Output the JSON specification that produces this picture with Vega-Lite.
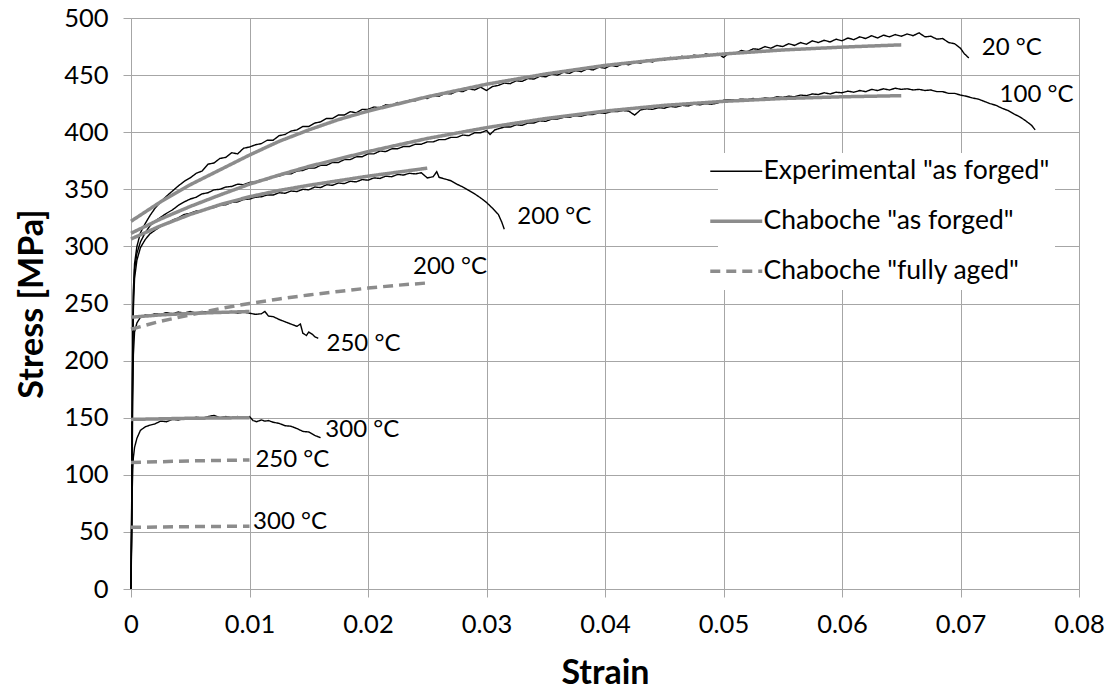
{
  "$schema": "https://vega.github.io/schema/vega-lite/v6.json",
  "width": 948,
  "height": 571,
  "autosize": {"type": "none"},
  "padding": {"left": 131, "top": 18, "right": 32, "bottom": 103},
  "background": "white",
  "config": {
    "view": {"stroke": null},
    "font": "Lato",
    "axis": {
      "grid": true,
      "gridColor": "#a6a6a6",
      "gridWidth": 1,
      "domainColor": "#a6a6a6",
      "tickColor": "#a6a6a6",
      "tickSize": 8,
      "labelFlush": false,
      "labelFont": "Lato",
      "labelFontSize": 25.5,
      "labelColor": "#000000",
      "labelPadding": 15,
      "titleFont": "Lato",
      "titleFontSize": 34,
      "titleFontWeight": "bold",
      "titleColor": "#000000"
    }
  },
  "datasets": {
    "curves": [
      {"s":"Experimental \"as forged\"","t":"20","x":0,"y":0},
      {"s":"Experimental \"as forged\"","t":"20","x":0.00005,"y":60},
      {"s":"Experimental \"as forged\"","t":"20","x":0.0001,"y":150},
      {"s":"Experimental \"as forged\"","t":"20","x":0.00015,"y":220},
      {"s":"Experimental \"as forged\"","t":"20","x":0.0002,"y":262},
      {"s":"Experimental \"as forged\"","t":"20","x":0.0003,"y":285},
      {"s":"Experimental \"as forged\"","t":"20","x":0.0005,"y":300},
      {"s":"Experimental \"as forged\"","t":"20","x":0.0008,"y":312},
      {"s":"Experimental \"as forged\"","t":"20","x":0.0012,"y":320},
      {"s":"Experimental \"as forged\"","t":"20","x":0.0016,"y":327},
      {"s":"Experimental \"as forged\"","t":"20","x":0.002,"y":333},
      {"s":"Experimental \"as forged\"","t":"20","x":0.0025,"y":339},
      {"s":"Experimental \"as forged\"","t":"20","x":0.003,"y":344},
      {"s":"Experimental \"as forged\"","t":"20","x":0.0035,"y":348.5},
      {"s":"Experimental \"as forged\"","t":"20","x":0.004,"y":353},
      {"s":"Experimental \"as forged\"","t":"20","x":0.0045,"y":357},
      {"s":"Experimental \"as forged\"","t":"20","x":0.005,"y":360},
      {"s":"Experimental \"as forged\"","t":"20","x":0.0055,"y":364},
      {"s":"Experimental \"as forged\"","t":"20","x":0.006,"y":366},
      {"s":"Experimental \"as forged\"","t":"20","x":0.0065,"y":372},
      {"s":"Experimental \"as forged\"","t":"20","x":0.007,"y":373},
      {"s":"Experimental \"as forged\"","t":"20","x":0.0075,"y":377},
      {"s":"Experimental \"as forged\"","t":"20","x":0.008,"y":378},
      {"s":"Experimental \"as forged\"","t":"20","x":0.0085,"y":382},
      {"s":"Experimental \"as forged\"","t":"20","x":0.009,"y":381},
      {"s":"Experimental \"as forged\"","t":"20","x":0.0095,"y":386},
      {"s":"Experimental \"as forged\"","t":"20","x":0.01,"y":387},
      {"s":"Experimental \"as forged\"","t":"20","x":0.0105,"y":389},
      {"s":"Experimental \"as forged\"","t":"20","x":0.011,"y":390},
      {"s":"Experimental \"as forged\"","t":"20","x":0.0115,"y":393},
      {"s":"Experimental \"as forged\"","t":"20","x":0.012,"y":393},
      {"s":"Experimental \"as forged\"","t":"20","x":0.0125,"y":397},
      {"s":"Experimental \"as forged\"","t":"20","x":0.013,"y":398},
      {"s":"Experimental \"as forged\"","t":"20","x":0.0135,"y":401},
      {"s":"Experimental \"as forged\"","t":"20","x":0.014,"y":402},
      {"s":"Experimental \"as forged\"","t":"20","x":0.0145,"y":405},
      {"s":"Experimental \"as forged\"","t":"20","x":0.015,"y":405},
      {"s":"Experimental \"as forged\"","t":"20","x":0.0155,"y":408},
      {"s":"Experimental \"as forged\"","t":"20","x":0.016,"y":409},
      {"s":"Experimental \"as forged\"","t":"20","x":0.0165,"y":412},
      {"s":"Experimental \"as forged\"","t":"20","x":0.017,"y":412},
      {"s":"Experimental \"as forged\"","t":"20","x":0.0175,"y":415},
      {"s":"Experimental \"as forged\"","t":"20","x":0.018,"y":415},
      {"s":"Experimental \"as forged\"","t":"20","x":0.0185,"y":418},
      {"s":"Experimental \"as forged\"","t":"20","x":0.019,"y":417},
      {"s":"Experimental \"as forged\"","t":"20","x":0.0195,"y":420},
      {"s":"Experimental \"as forged\"","t":"20","x":0.02,"y":420},
      {"s":"Experimental \"as forged\"","t":"20","x":0.0205,"y":422},
      {"s":"Experimental \"as forged\"","t":"20","x":0.021,"y":421.5},
      {"s":"Experimental \"as forged\"","t":"20","x":0.0215,"y":424},
      {"s":"Experimental \"as forged\"","t":"20","x":0.022,"y":423.5},
      {"s":"Experimental \"as forged\"","t":"20","x":0.0225,"y":426},
      {"s":"Experimental \"as forged\"","t":"20","x":0.023,"y":425.5},
      {"s":"Experimental \"as forged\"","t":"20","x":0.0235,"y":428},
      {"s":"Experimental \"as forged\"","t":"20","x":0.024,"y":427.5},
      {"s":"Experimental \"as forged\"","t":"20","x":0.0245,"y":430},
      {"s":"Experimental \"as forged\"","t":"20","x":0.025,"y":429.5},
      {"s":"Experimental \"as forged\"","t":"20","x":0.0255,"y":432},
      {"s":"Experimental \"as forged\"","t":"20","x":0.026,"y":431.5},
      {"s":"Experimental \"as forged\"","t":"20","x":0.0265,"y":434},
      {"s":"Experimental \"as forged\"","t":"20","x":0.027,"y":433.5},
      {"s":"Experimental \"as forged\"","t":"20","x":0.0275,"y":436},
      {"s":"Experimental \"as forged\"","t":"20","x":0.028,"y":435.5},
      {"s":"Experimental \"as forged\"","t":"20","x":0.0285,"y":438},
      {"s":"Experimental \"as forged\"","t":"20","x":0.029,"y":437},
      {"s":"Experimental \"as forged\"","t":"20","x":0.0295,"y":439.5},
      {"s":"Experimental \"as forged\"","t":"20","x":0.03,"y":436.5},
      {"s":"Experimental \"as forged\"","t":"20","x":0.0305,"y":440},
      {"s":"Experimental \"as forged\"","t":"20","x":0.031,"y":441},
      {"s":"Experimental \"as forged\"","t":"20","x":0.0315,"y":443},
      {"s":"Experimental \"as forged\"","t":"20","x":0.032,"y":442.5},
      {"s":"Experimental \"as forged\"","t":"20","x":0.0325,"y":445},
      {"s":"Experimental \"as forged\"","t":"20","x":0.033,"y":444.5},
      {"s":"Experimental \"as forged\"","t":"20","x":0.0335,"y":447},
      {"s":"Experimental \"as forged\"","t":"20","x":0.034,"y":446.5},
      {"s":"Experimental \"as forged\"","t":"20","x":0.0345,"y":449},
      {"s":"Experimental \"as forged\"","t":"20","x":0.035,"y":448.5},
      {"s":"Experimental \"as forged\"","t":"20","x":0.0355,"y":451},
      {"s":"Experimental \"as forged\"","t":"20","x":0.036,"y":450},
      {"s":"Experimental \"as forged\"","t":"20","x":0.0365,"y":452.5},
      {"s":"Experimental \"as forged\"","t":"20","x":0.037,"y":451.5},
      {"s":"Experimental \"as forged\"","t":"20","x":0.0375,"y":454},
      {"s":"Experimental \"as forged\"","t":"20","x":0.038,"y":453},
      {"s":"Experimental \"as forged\"","t":"20","x":0.0385,"y":455.5},
      {"s":"Experimental \"as forged\"","t":"20","x":0.039,"y":454.5},
      {"s":"Experimental \"as forged\"","t":"20","x":0.0395,"y":457},
      {"s":"Experimental \"as forged\"","t":"20","x":0.04,"y":456},
      {"s":"Experimental \"as forged\"","t":"20","x":0.0405,"y":458.5},
      {"s":"Experimental \"as forged\"","t":"20","x":0.041,"y":457.5},
      {"s":"Experimental \"as forged\"","t":"20","x":0.0415,"y":460},
      {"s":"Experimental \"as forged\"","t":"20","x":0.042,"y":459},
      {"s":"Experimental \"as forged\"","t":"20","x":0.0425,"y":461.5},
      {"s":"Experimental \"as forged\"","t":"20","x":0.043,"y":460.5},
      {"s":"Experimental \"as forged\"","t":"20","x":0.0435,"y":463},
      {"s":"Experimental \"as forged\"","t":"20","x":0.044,"y":461.5},
      {"s":"Experimental \"as forged\"","t":"20","x":0.0445,"y":464},
      {"s":"Experimental \"as forged\"","t":"20","x":0.045,"y":463},
      {"s":"Experimental \"as forged\"","t":"20","x":0.0455,"y":465.5},
      {"s":"Experimental \"as forged\"","t":"20","x":0.046,"y":464},
      {"s":"Experimental \"as forged\"","t":"20","x":0.0465,"y":466.5},
      {"s":"Experimental \"as forged\"","t":"20","x":0.047,"y":465},
      {"s":"Experimental \"as forged\"","t":"20","x":0.0475,"y":467.5},
      {"s":"Experimental \"as forged\"","t":"20","x":0.048,"y":466.5},
      {"s":"Experimental \"as forged\"","t":"20","x":0.0485,"y":468.5},
      {"s":"Experimental \"as forged\"","t":"20","x":0.049,"y":467.5},
      {"s":"Experimental \"as forged\"","t":"20","x":0.0495,"y":469},
      {"s":"Experimental \"as forged\"","t":"20","x":0.05,"y":465.5},
      {"s":"Experimental \"as forged\"","t":"20","x":0.0505,"y":469.5},
      {"s":"Experimental \"as forged\"","t":"20","x":0.051,"y":469},
      {"s":"Experimental \"as forged\"","t":"20","x":0.0515,"y":471.5},
      {"s":"Experimental \"as forged\"","t":"20","x":0.052,"y":470.5},
      {"s":"Experimental \"as forged\"","t":"20","x":0.0525,"y":473},
      {"s":"Experimental \"as forged\"","t":"20","x":0.053,"y":472.5},
      {"s":"Experimental \"as forged\"","t":"20","x":0.0535,"y":475},
      {"s":"Experimental \"as forged\"","t":"20","x":0.054,"y":473.5},
      {"s":"Experimental \"as forged\"","t":"20","x":0.0545,"y":476},
      {"s":"Experimental \"as forged\"","t":"20","x":0.055,"y":475},
      {"s":"Experimental \"as forged\"","t":"20","x":0.0555,"y":477.5},
      {"s":"Experimental \"as forged\"","t":"20","x":0.056,"y":476},
      {"s":"Experimental \"as forged\"","t":"20","x":0.0565,"y":478.5},
      {"s":"Experimental \"as forged\"","t":"20","x":0.057,"y":477},
      {"s":"Experimental \"as forged\"","t":"20","x":0.0575,"y":480},
      {"s":"Experimental \"as forged\"","t":"20","x":0.058,"y":478.5},
      {"s":"Experimental \"as forged\"","t":"20","x":0.0585,"y":480.5},
      {"s":"Experimental \"as forged\"","t":"20","x":0.059,"y":479},
      {"s":"Experimental \"as forged\"","t":"20","x":0.0595,"y":481.5},
      {"s":"Experimental \"as forged\"","t":"20","x":0.06,"y":480},
      {"s":"Experimental \"as forged\"","t":"20","x":0.0605,"y":482.5},
      {"s":"Experimental \"as forged\"","t":"20","x":0.061,"y":481},
      {"s":"Experimental \"as forged\"","t":"20","x":0.0615,"y":483.5},
      {"s":"Experimental \"as forged\"","t":"20","x":0.062,"y":482},
      {"s":"Experimental \"as forged\"","t":"20","x":0.0625,"y":484.5},
      {"s":"Experimental \"as forged\"","t":"20","x":0.063,"y":482.5},
      {"s":"Experimental \"as forged\"","t":"20","x":0.0635,"y":485},
      {"s":"Experimental \"as forged\"","t":"20","x":0.064,"y":483.5},
      {"s":"Experimental \"as forged\"","t":"20","x":0.0645,"y":485.5},
      {"s":"Experimental \"as forged\"","t":"20","x":0.065,"y":484},
      {"s":"Experimental \"as forged\"","t":"20","x":0.0655,"y":486},
      {"s":"Experimental \"as forged\"","t":"20","x":0.066,"y":484.5},
      {"s":"Experimental \"as forged\"","t":"20","x":0.0665,"y":487},
      {"s":"Experimental \"as forged\"","t":"20","x":0.067,"y":483.5},
      {"s":"Experimental \"as forged\"","t":"20","x":0.0675,"y":484},
      {"s":"Experimental \"as forged\"","t":"20","x":0.068,"y":481.5},
      {"s":"Experimental \"as forged\"","t":"20","x":0.0685,"y":482},
      {"s":"Experimental \"as forged\"","t":"20","x":0.069,"y":478.5},
      {"s":"Experimental \"as forged\"","t":"20","x":0.0695,"y":477.5},
      {"s":"Experimental \"as forged\"","t":"20","x":0.07,"y":473.5},
      {"s":"Experimental \"as forged\"","t":"20","x":0.0703,"y":469},
      {"s":"Experimental \"as forged\"","t":"20","x":0.0707,"y":465},

      {"s":"Experimental \"as forged\"","t":"100","x":0,"y":0},
      {"s":"Experimental \"as forged\"","t":"100","x":0.00005,"y":60},
      {"s":"Experimental \"as forged\"","t":"100","x":0.0001,"y":150},
      {"s":"Experimental \"as forged\"","t":"100","x":0.00015,"y":218},
      {"s":"Experimental \"as forged\"","t":"100","x":0.0002,"y":256},
      {"s":"Experimental \"as forged\"","t":"100","x":0.0003,"y":280},
      {"s":"Experimental \"as forged\"","t":"100","x":0.0005,"y":294},
      {"s":"Experimental \"as forged\"","t":"100","x":0.0008,"y":304},
      {"s":"Experimental \"as forged\"","t":"100","x":0.0012,"y":312},
      {"s":"Experimental \"as forged\"","t":"100","x":0.0016,"y":318},
      {"s":"Experimental \"as forged\"","t":"100","x":0.002,"y":322},
      {"s":"Experimental \"as forged\"","t":"100","x":0.0025,"y":325.5},
      {"s":"Experimental \"as forged\"","t":"100","x":0.003,"y":329},
      {"s":"Experimental \"as forged\"","t":"100","x":0.0035,"y":332},
      {"s":"Experimental \"as forged\"","t":"100","x":0.004,"y":336},
      {"s":"Experimental \"as forged\"","t":"100","x":0.0045,"y":339},
      {"s":"Experimental \"as forged\"","t":"100","x":0.005,"y":341.5},
      {"s":"Experimental \"as forged\"","t":"100","x":0.0055,"y":343},
      {"s":"Experimental \"as forged\"","t":"100","x":0.006,"y":346},
      {"s":"Experimental \"as forged\"","t":"100","x":0.0065,"y":347},
      {"s":"Experimental \"as forged\"","t":"100","x":0.007,"y":349.5},
      {"s":"Experimental \"as forged\"","t":"100","x":0.0075,"y":350},
      {"s":"Experimental \"as forged\"","t":"100","x":0.008,"y":352},
      {"s":"Experimental \"as forged\"","t":"100","x":0.0085,"y":352.5},
      {"s":"Experimental \"as forged\"","t":"100","x":0.009,"y":354.5},
      {"s":"Experimental \"as forged\"","t":"100","x":0.0095,"y":354},
      {"s":"Experimental \"as forged\"","t":"100","x":0.01,"y":356},
      {"s":"Experimental \"as forged\"","t":"100","x":0.0105,"y":356.5},
      {"s":"Experimental \"as forged\"","t":"100","x":0.011,"y":358.5},
      {"s":"Experimental \"as forged\"","t":"100","x":0.0115,"y":358.5},
      {"s":"Experimental \"as forged\"","t":"100","x":0.012,"y":361},
      {"s":"Experimental \"as forged\"","t":"100","x":0.0125,"y":361.5},
      {"s":"Experimental \"as forged\"","t":"100","x":0.013,"y":363.5},
      {"s":"Experimental \"as forged\"","t":"100","x":0.0135,"y":363.5},
      {"s":"Experimental \"as forged\"","t":"100","x":0.014,"y":366},
      {"s":"Experimental \"as forged\"","t":"100","x":0.0145,"y":366.5},
      {"s":"Experimental \"as forged\"","t":"100","x":0.015,"y":368.5},
      {"s":"Experimental \"as forged\"","t":"100","x":0.0155,"y":368.5},
      {"s":"Experimental \"as forged\"","t":"100","x":0.016,"y":371},
      {"s":"Experimental \"as forged\"","t":"100","x":0.0165,"y":371},
      {"s":"Experimental \"as forged\"","t":"100","x":0.017,"y":373.5},
      {"s":"Experimental \"as forged\"","t":"100","x":0.0175,"y":373.5},
      {"s":"Experimental \"as forged\"","t":"100","x":0.018,"y":376},
      {"s":"Experimental \"as forged\"","t":"100","x":0.0185,"y":376},
      {"s":"Experimental \"as forged\"","t":"100","x":0.019,"y":378.5},
      {"s":"Experimental \"as forged\"","t":"100","x":0.0195,"y":378.5},
      {"s":"Experimental \"as forged\"","t":"100","x":0.02,"y":381},
      {"s":"Experimental \"as forged\"","t":"100","x":0.0205,"y":381},
      {"s":"Experimental \"as forged\"","t":"100","x":0.021,"y":383.5},
      {"s":"Experimental \"as forged\"","t":"100","x":0.0215,"y":383},
      {"s":"Experimental \"as forged\"","t":"100","x":0.022,"y":385.5},
      {"s":"Experimental \"as forged\"","t":"100","x":0.0225,"y":385.5},
      {"s":"Experimental \"as forged\"","t":"100","x":0.023,"y":387.5},
      {"s":"Experimental \"as forged\"","t":"100","x":0.0235,"y":387.5},
      {"s":"Experimental \"as forged\"","t":"100","x":0.024,"y":389.5},
      {"s":"Experimental \"as forged\"","t":"100","x":0.0245,"y":389.5},
      {"s":"Experimental \"as forged\"","t":"100","x":0.025,"y":391.5},
      {"s":"Experimental \"as forged\"","t":"100","x":0.0255,"y":391.5},
      {"s":"Experimental \"as forged\"","t":"100","x":0.026,"y":393.5},
      {"s":"Experimental \"as forged\"","t":"100","x":0.0265,"y":393.5},
      {"s":"Experimental \"as forged\"","t":"100","x":0.027,"y":395.5},
      {"s":"Experimental \"as forged\"","t":"100","x":0.0275,"y":395.5},
      {"s":"Experimental \"as forged\"","t":"100","x":0.028,"y":397.5},
      {"s":"Experimental \"as forged\"","t":"100","x":0.0285,"y":397},
      {"s":"Experimental \"as forged\"","t":"100","x":0.029,"y":399.5},
      {"s":"Experimental \"as forged\"","t":"100","x":0.0295,"y":399.5},
      {"s":"Experimental \"as forged\"","t":"100","x":0.03,"y":401.5},
      {"s":"Experimental \"as forged\"","t":"100","x":0.0303,"y":398},
      {"s":"Experimental \"as forged\"","t":"100","x":0.0307,"y":402},
      {"s":"Experimental \"as forged\"","t":"100","x":0.031,"y":403},
      {"s":"Experimental \"as forged\"","t":"100","x":0.0315,"y":404.5},
      {"s":"Experimental \"as forged\"","t":"100","x":0.032,"y":404.5},
      {"s":"Experimental \"as forged\"","t":"100","x":0.0325,"y":406.5},
      {"s":"Experimental \"as forged\"","t":"100","x":0.033,"y":406},
      {"s":"Experimental \"as forged\"","t":"100","x":0.0335,"y":408},
      {"s":"Experimental \"as forged\"","t":"100","x":0.034,"y":408},
      {"s":"Experimental \"as forged\"","t":"100","x":0.0345,"y":410},
      {"s":"Experimental \"as forged\"","t":"100","x":0.035,"y":409.5},
      {"s":"Experimental \"as forged\"","t":"100","x":0.0355,"y":411.5},
      {"s":"Experimental \"as forged\"","t":"100","x":0.036,"y":411.5},
      {"s":"Experimental \"as forged\"","t":"100","x":0.0365,"y":413},
      {"s":"Experimental \"as forged\"","t":"100","x":0.037,"y":413},
      {"s":"Experimental \"as forged\"","t":"100","x":0.0375,"y":414.5},
      {"s":"Experimental \"as forged\"","t":"100","x":0.038,"y":414},
      {"s":"Experimental \"as forged\"","t":"100","x":0.0385,"y":415.5},
      {"s":"Experimental \"as forged\"","t":"100","x":0.039,"y":415.5},
      {"s":"Experimental \"as forged\"","t":"100","x":0.0395,"y":417},
      {"s":"Experimental \"as forged\"","t":"100","x":0.04,"y":416.5},
      {"s":"Experimental \"as forged\"","t":"100","x":0.0405,"y":418},
      {"s":"Experimental \"as forged\"","t":"100","x":0.041,"y":418},
      {"s":"Experimental \"as forged\"","t":"100","x":0.0415,"y":419},
      {"s":"Experimental \"as forged\"","t":"100","x":0.042,"y":418.5},
      {"s":"Experimental \"as forged\"","t":"100","x":0.0425,"y":415},
      {"s":"Experimental \"as forged\"","t":"100","x":0.043,"y":419.5},
      {"s":"Experimental \"as forged\"","t":"100","x":0.0435,"y":420.5},
      {"s":"Experimental \"as forged\"","t":"100","x":0.044,"y":420},
      {"s":"Experimental \"as forged\"","t":"100","x":0.0445,"y":421.5},
      {"s":"Experimental \"as forged\"","t":"100","x":0.045,"y":421},
      {"s":"Experimental \"as forged\"","t":"100","x":0.0455,"y":422.5},
      {"s":"Experimental \"as forged\"","t":"100","x":0.046,"y":422},
      {"s":"Experimental \"as forged\"","t":"100","x":0.0465,"y":423.5},
      {"s":"Experimental \"as forged\"","t":"100","x":0.047,"y":423},
      {"s":"Experimental \"as forged\"","t":"100","x":0.0475,"y":424.5},
      {"s":"Experimental \"as forged\"","t":"100","x":0.048,"y":424},
      {"s":"Experimental \"as forged\"","t":"100","x":0.0485,"y":425},
      {"s":"Experimental \"as forged\"","t":"100","x":0.049,"y":424.5},
      {"s":"Experimental \"as forged\"","t":"100","x":0.0495,"y":425.5},
      {"s":"Experimental \"as forged\"","t":"100","x":0.05,"y":428},
      {"s":"Experimental \"as forged\"","t":"100","x":0.0505,"y":428.5},
      {"s":"Experimental \"as forged\"","t":"100","x":0.051,"y":428},
      {"s":"Experimental \"as forged\"","t":"100","x":0.0515,"y":429},
      {"s":"Experimental \"as forged\"","t":"100","x":0.052,"y":428.5},
      {"s":"Experimental \"as forged\"","t":"100","x":0.0525,"y":429.5},
      {"s":"Experimental \"as forged\"","t":"100","x":0.053,"y":429},
      {"s":"Experimental \"as forged\"","t":"100","x":0.0535,"y":430},
      {"s":"Experimental \"as forged\"","t":"100","x":0.054,"y":429.5},
      {"s":"Experimental \"as forged\"","t":"100","x":0.0545,"y":431},
      {"s":"Experimental \"as forged\"","t":"100","x":0.055,"y":430.5},
      {"s":"Experimental \"as forged\"","t":"100","x":0.0555,"y":431.5},
      {"s":"Experimental \"as forged\"","t":"100","x":0.056,"y":431},
      {"s":"Experimental \"as forged\"","t":"100","x":0.0565,"y":432.5},
      {"s":"Experimental \"as forged\"","t":"100","x":0.057,"y":432},
      {"s":"Experimental \"as forged\"","t":"100","x":0.0575,"y":433.5},
      {"s":"Experimental \"as forged\"","t":"100","x":0.058,"y":433},
      {"s":"Experimental \"as forged\"","t":"100","x":0.0585,"y":434.5},
      {"s":"Experimental \"as forged\"","t":"100","x":0.059,"y":433.5},
      {"s":"Experimental \"as forged\"","t":"100","x":0.0595,"y":435},
      {"s":"Experimental \"as forged\"","t":"100","x":0.06,"y":434.5},
      {"s":"Experimental \"as forged\"","t":"100","x":0.0605,"y":436},
      {"s":"Experimental \"as forged\"","t":"100","x":0.061,"y":435},
      {"s":"Experimental \"as forged\"","t":"100","x":0.0615,"y":436.5},
      {"s":"Experimental \"as forged\"","t":"100","x":0.062,"y":435.5},
      {"s":"Experimental \"as forged\"","t":"100","x":0.0625,"y":437.5},
      {"s":"Experimental \"as forged\"","t":"100","x":0.063,"y":436.5},
      {"s":"Experimental \"as forged\"","t":"100","x":0.0635,"y":438},
      {"s":"Experimental \"as forged\"","t":"100","x":0.064,"y":437},
      {"s":"Experimental \"as forged\"","t":"100","x":0.0645,"y":438.5},
      {"s":"Experimental \"as forged\"","t":"100","x":0.065,"y":437.5},
      {"s":"Experimental \"as forged\"","t":"100","x":0.0655,"y":438},
      {"s":"Experimental \"as forged\"","t":"100","x":0.066,"y":437},
      {"s":"Experimental \"as forged\"","t":"100","x":0.0665,"y":437.5},
      {"s":"Experimental \"as forged\"","t":"100","x":0.067,"y":436.5},
      {"s":"Experimental \"as forged\"","t":"100","x":0.0675,"y":437},
      {"s":"Experimental \"as forged\"","t":"100","x":0.068,"y":435.5},
      {"s":"Experimental \"as forged\"","t":"100","x":0.0685,"y":435.5},
      {"s":"Experimental \"as forged\"","t":"100","x":0.069,"y":434},
      {"s":"Experimental \"as forged\"","t":"100","x":0.0695,"y":434},
      {"s":"Experimental \"as forged\"","t":"100","x":0.07,"y":432.5},
      {"s":"Experimental \"as forged\"","t":"100","x":0.0705,"y":431.5},
      {"s":"Experimental \"as forged\"","t":"100","x":0.071,"y":430},
      {"s":"Experimental \"as forged\"","t":"100","x":0.0715,"y":429},
      {"s":"Experimental \"as forged\"","t":"100","x":0.072,"y":427},
      {"s":"Experimental \"as forged\"","t":"100","x":0.0725,"y":425},
      {"s":"Experimental \"as forged\"","t":"100","x":0.073,"y":423.5},
      {"s":"Experimental \"as forged\"","t":"100","x":0.0735,"y":421},
      {"s":"Experimental \"as forged\"","t":"100","x":0.074,"y":419},
      {"s":"Experimental \"as forged\"","t":"100","x":0.0745,"y":416},
      {"s":"Experimental \"as forged\"","t":"100","x":0.075,"y":413.5},
      {"s":"Experimental \"as forged\"","t":"100","x":0.0755,"y":410},
      {"s":"Experimental \"as forged\"","t":"100","x":0.076,"y":406},
      {"s":"Experimental \"as forged\"","t":"100","x":0.0763,"y":402},

      {"s":"Experimental \"as forged\"","t":"200","x":0,"y":0},
      {"s":"Experimental \"as forged\"","t":"200","x":0.00005,"y":55},
      {"s":"Experimental \"as forged\"","t":"200","x":0.0001,"y":140},
      {"s":"Experimental \"as forged\"","t":"200","x":0.00015,"y":205},
      {"s":"Experimental \"as forged\"","t":"200","x":0.0002,"y":245},
      {"s":"Experimental \"as forged\"","t":"200","x":0.0003,"y":272},
      {"s":"Experimental \"as forged\"","t":"200","x":0.0005,"y":288},
      {"s":"Experimental \"as forged\"","t":"200","x":0.0008,"y":299},
      {"s":"Experimental \"as forged\"","t":"200","x":0.0012,"y":306},
      {"s":"Experimental \"as forged\"","t":"200","x":0.0016,"y":311},
      {"s":"Experimental \"as forged\"","t":"200","x":0.002,"y":314},
      {"s":"Experimental \"as forged\"","t":"200","x":0.0025,"y":317.5},
      {"s":"Experimental \"as forged\"","t":"200","x":0.003,"y":320},
      {"s":"Experimental \"as forged\"","t":"200","x":0.0035,"y":323},
      {"s":"Experimental \"as forged\"","t":"200","x":0.004,"y":325},
      {"s":"Experimental \"as forged\"","t":"200","x":0.0045,"y":328},
      {"s":"Experimental \"as forged\"","t":"200","x":0.005,"y":329},
      {"s":"Experimental \"as forged\"","t":"200","x":0.0055,"y":331},
      {"s":"Experimental \"as forged\"","t":"200","x":0.006,"y":331.5},
      {"s":"Experimental \"as forged\"","t":"200","x":0.0065,"y":333.5},
      {"s":"Experimental \"as forged\"","t":"200","x":0.007,"y":334},
      {"s":"Experimental \"as forged\"","t":"200","x":0.0075,"y":336},
      {"s":"Experimental \"as forged\"","t":"200","x":0.008,"y":336.5},
      {"s":"Experimental \"as forged\"","t":"200","x":0.0085,"y":338.5},
      {"s":"Experimental \"as forged\"","t":"200","x":0.009,"y":339},
      {"s":"Experimental \"as forged\"","t":"200","x":0.0095,"y":341},
      {"s":"Experimental \"as forged\"","t":"200","x":0.01,"y":341.5},
      {"s":"Experimental \"as forged\"","t":"200","x":0.0105,"y":343},
      {"s":"Experimental \"as forged\"","t":"200","x":0.011,"y":343.5},
      {"s":"Experimental \"as forged\"","t":"200","x":0.0115,"y":345},
      {"s":"Experimental \"as forged\"","t":"200","x":0.012,"y":345},
      {"s":"Experimental \"as forged\"","t":"200","x":0.0125,"y":347},
      {"s":"Experimental \"as forged\"","t":"200","x":0.013,"y":346.5},
      {"s":"Experimental \"as forged\"","t":"200","x":0.0135,"y":348.5},
      {"s":"Experimental \"as forged\"","t":"200","x":0.014,"y":348},
      {"s":"Experimental \"as forged\"","t":"200","x":0.0145,"y":350},
      {"s":"Experimental \"as forged\"","t":"200","x":0.015,"y":349.5},
      {"s":"Experimental \"as forged\"","t":"200","x":0.0155,"y":352},
      {"s":"Experimental \"as forged\"","t":"200","x":0.016,"y":351.5},
      {"s":"Experimental \"as forged\"","t":"200","x":0.0165,"y":354},
      {"s":"Experimental \"as forged\"","t":"200","x":0.017,"y":353.5},
      {"s":"Experimental \"as forged\"","t":"200","x":0.0175,"y":355.5},
      {"s":"Experimental \"as forged\"","t":"200","x":0.018,"y":355},
      {"s":"Experimental \"as forged\"","t":"200","x":0.0185,"y":357},
      {"s":"Experimental \"as forged\"","t":"200","x":0.019,"y":356.5},
      {"s":"Experimental \"as forged\"","t":"200","x":0.0195,"y":358.5},
      {"s":"Experimental \"as forged\"","t":"200","x":0.02,"y":358},
      {"s":"Experimental \"as forged\"","t":"200","x":0.0205,"y":360},
      {"s":"Experimental \"as forged\"","t":"200","x":0.021,"y":359.5},
      {"s":"Experimental \"as forged\"","t":"200","x":0.0215,"y":361.5},
      {"s":"Experimental \"as forged\"","t":"200","x":0.022,"y":361},
      {"s":"Experimental \"as forged\"","t":"200","x":0.0225,"y":363},
      {"s":"Experimental \"as forged\"","t":"200","x":0.023,"y":362.5},
      {"s":"Experimental \"as forged\"","t":"200","x":0.0235,"y":364},
      {"s":"Experimental \"as forged\"","t":"200","x":0.024,"y":363.5},
      {"s":"Experimental \"as forged\"","t":"200","x":0.0245,"y":364.5},
      {"s":"Experimental \"as forged\"","t":"200","x":0.025,"y":360},
      {"s":"Experimental \"as forged\"","t":"200","x":0.0255,"y":361},
      {"s":"Experimental \"as forged\"","t":"200","x":0.0258,"y":365.5},
      {"s":"Experimental \"as forged\"","t":"200","x":0.026,"y":360.5},
      {"s":"Experimental \"as forged\"","t":"200","x":0.0265,"y":359},
      {"s":"Experimental \"as forged\"","t":"200","x":0.027,"y":357.5},
      {"s":"Experimental \"as forged\"","t":"200","x":0.0275,"y":354.5},
      {"s":"Experimental \"as forged\"","t":"200","x":0.028,"y":352},
      {"s":"Experimental \"as forged\"","t":"200","x":0.0285,"y":349},
      {"s":"Experimental \"as forged\"","t":"200","x":0.029,"y":346},
      {"s":"Experimental \"as forged\"","t":"200","x":0.0295,"y":342.5},
      {"s":"Experimental \"as forged\"","t":"200","x":0.03,"y":338.5},
      {"s":"Experimental \"as forged\"","t":"200","x":0.0305,"y":333.5},
      {"s":"Experimental \"as forged\"","t":"200","x":0.031,"y":328},
      {"s":"Experimental \"as forged\"","t":"200","x":0.0313,"y":321},
      {"s":"Experimental \"as forged\"","t":"200","x":0.0315,"y":315},

      {"s":"Experimental \"as forged\"","t":"250","x":0,"y":0},
      {"s":"Experimental \"as forged\"","t":"250","x":0.00005,"y":50},
      {"s":"Experimental \"as forged\"","t":"250","x":0.0001,"y":110},
      {"s":"Experimental \"as forged\"","t":"250","x":0.00015,"y":170},
      {"s":"Experimental \"as forged\"","t":"250","x":0.0002,"y":205},
      {"s":"Experimental \"as forged\"","t":"250","x":0.0003,"y":225},
      {"s":"Experimental \"as forged\"","t":"250","x":0.0005,"y":233},
      {"s":"Experimental \"as forged\"","t":"250","x":0.0008,"y":238},
      {"s":"Experimental \"as forged\"","t":"250","x":0.0012,"y":240},
      {"s":"Experimental \"as forged\"","t":"250","x":0.0016,"y":239.5},
      {"s":"Experimental \"as forged\"","t":"250","x":0.002,"y":241},
      {"s":"Experimental \"as forged\"","t":"250","x":0.0025,"y":240.5},
      {"s":"Experimental \"as forged\"","t":"250","x":0.003,"y":242},
      {"s":"Experimental \"as forged\"","t":"250","x":0.0035,"y":241},
      {"s":"Experimental \"as forged\"","t":"250","x":0.004,"y":242.5},
      {"s":"Experimental \"as forged\"","t":"250","x":0.0045,"y":241.5},
      {"s":"Experimental \"as forged\"","t":"250","x":0.005,"y":243},
      {"s":"Experimental \"as forged\"","t":"250","x":0.0055,"y":241.5},
      {"s":"Experimental \"as forged\"","t":"250","x":0.006,"y":242.5},
      {"s":"Experimental \"as forged\"","t":"250","x":0.0065,"y":243},
      {"s":"Experimental \"as forged\"","t":"250","x":0.007,"y":241.5},
      {"s":"Experimental \"as forged\"","t":"250","x":0.0075,"y":243},
      {"s":"Experimental \"as forged\"","t":"250","x":0.008,"y":242},
      {"s":"Experimental \"as forged\"","t":"250","x":0.0085,"y":243},
      {"s":"Experimental \"as forged\"","t":"250","x":0.009,"y":241.5},
      {"s":"Experimental \"as forged\"","t":"250","x":0.0095,"y":242.5},
      {"s":"Experimental \"as forged\"","t":"250","x":0.01,"y":241.5},
      {"s":"Experimental \"as forged\"","t":"250","x":0.0105,"y":240.5},
      {"s":"Experimental \"as forged\"","t":"250","x":0.011,"y":241},
      {"s":"Experimental \"as forged\"","t":"250","x":0.0113,"y":243},
      {"s":"Experimental \"as forged\"","t":"250","x":0.0116,"y":239},
      {"s":"Experimental \"as forged\"","t":"250","x":0.012,"y":238.5},
      {"s":"Experimental \"as forged\"","t":"250","x":0.0125,"y":236},
      {"s":"Experimental \"as forged\"","t":"250","x":0.013,"y":234},
      {"s":"Experimental \"as forged\"","t":"250","x":0.0135,"y":232},
      {"s":"Experimental \"as forged\"","t":"250","x":0.014,"y":230},
      {"s":"Experimental \"as forged\"","t":"250","x":0.0143,"y":232},
      {"s":"Experimental \"as forged\"","t":"250","x":0.0145,"y":224},
      {"s":"Experimental \"as forged\"","t":"250","x":0.0148,"y":222},
      {"s":"Experimental \"as forged\"","t":"250","x":0.015,"y":225},
      {"s":"Experimental \"as forged\"","t":"250","x":0.0153,"y":223},
      {"s":"Experimental \"as forged\"","t":"250","x":0.0155,"y":221},
      {"s":"Experimental \"as forged\"","t":"250","x":0.0158,"y":219.5},

      {"s":"Experimental \"as forged\"","t":"300","x":0,"y":0},
      {"s":"Experimental \"as forged\"","t":"300","x":0.00005,"y":40},
      {"s":"Experimental \"as forged\"","t":"300","x":0.0001,"y":85},
      {"s":"Experimental \"as forged\"","t":"300","x":0.00015,"y":105},
      {"s":"Experimental \"as forged\"","t":"300","x":0.0002,"y":115},
      {"s":"Experimental \"as forged\"","t":"300","x":0.0003,"y":124},
      {"s":"Experimental \"as forged\"","t":"300","x":0.0005,"y":132},
      {"s":"Experimental \"as forged\"","t":"300","x":0.0008,"y":139},
      {"s":"Experimental \"as forged\"","t":"300","x":0.0012,"y":142},
      {"s":"Experimental \"as forged\"","t":"300","x":0.0016,"y":143.5},
      {"s":"Experimental \"as forged\"","t":"300","x":0.002,"y":144.5},
      {"s":"Experimental \"as forged\"","t":"300","x":0.0025,"y":147},
      {"s":"Experimental \"as forged\"","t":"300","x":0.003,"y":146.5},
      {"s":"Experimental \"as forged\"","t":"300","x":0.0035,"y":148.5},
      {"s":"Experimental \"as forged\"","t":"300","x":0.004,"y":148},
      {"s":"Experimental \"as forged\"","t":"300","x":0.0045,"y":149.5},
      {"s":"Experimental \"as forged\"","t":"300","x":0.005,"y":149},
      {"s":"Experimental \"as forged\"","t":"300","x":0.0055,"y":150.5},
      {"s":"Experimental \"as forged\"","t":"300","x":0.006,"y":149.5},
      {"s":"Experimental \"as forged\"","t":"300","x":0.0065,"y":151},
      {"s":"Experimental \"as forged\"","t":"300","x":0.007,"y":152},
      {"s":"Experimental \"as forged\"","t":"300","x":0.0075,"y":150},
      {"s":"Experimental \"as forged\"","t":"300","x":0.008,"y":151},
      {"s":"Experimental \"as forged\"","t":"300","x":0.0085,"y":150},
      {"s":"Experimental \"as forged\"","t":"300","x":0.009,"y":151},
      {"s":"Experimental \"as forged\"","t":"300","x":0.0095,"y":150.5},
      {"s":"Experimental \"as forged\"","t":"300","x":0.01,"y":151},
      {"s":"Experimental \"as forged\"","t":"300","x":0.0103,"y":147.5},
      {"s":"Experimental \"as forged\"","t":"300","x":0.0106,"y":146.5},
      {"s":"Experimental \"as forged\"","t":"300","x":0.011,"y":148},
      {"s":"Experimental \"as forged\"","t":"300","x":0.0113,"y":147},
      {"s":"Experimental \"as forged\"","t":"300","x":0.0116,"y":147.5},
      {"s":"Experimental \"as forged\"","t":"300","x":0.012,"y":146},
      {"s":"Experimental \"as forged\"","t":"300","x":0.0125,"y":145},
      {"s":"Experimental \"as forged\"","t":"300","x":0.013,"y":143},
      {"s":"Experimental \"as forged\"","t":"300","x":0.0135,"y":142.5},
      {"s":"Experimental \"as forged\"","t":"300","x":0.014,"y":140.5},
      {"s":"Experimental \"as forged\"","t":"300","x":0.0145,"y":138},
      {"s":"Experimental \"as forged\"","t":"300","x":0.015,"y":137.5},
      {"s":"Experimental \"as forged\"","t":"300","x":0.0155,"y":134.5},
      {"s":"Experimental \"as forged\"","t":"300","x":0.016,"y":132.5},

      {"s":"Chaboche \"as forged\"","t":"20","x":0,"y":322},
      {"s":"Chaboche \"as forged\"","t":"20","x":0.0025,"y":339},
      {"s":"Chaboche \"as forged\"","t":"20","x":0.005,"y":354},
      {"s":"Chaboche \"as forged\"","t":"20","x":0.0075,"y":367},
      {"s":"Chaboche \"as forged\"","t":"20","x":0.01,"y":380},
      {"s":"Chaboche \"as forged\"","t":"20","x":0.0125,"y":392},
      {"s":"Chaboche \"as forged\"","t":"20","x":0.015,"y":402},
      {"s":"Chaboche \"as forged\"","t":"20","x":0.0175,"y":411},
      {"s":"Chaboche \"as forged\"","t":"20","x":0.02,"y":418.5},
      {"s":"Chaboche \"as forged\"","t":"20","x":0.025,"y":431},
      {"s":"Chaboche \"as forged\"","t":"20","x":0.03,"y":442},
      {"s":"Chaboche \"as forged\"","t":"20","x":0.035,"y":451},
      {"s":"Chaboche \"as forged\"","t":"20","x":0.04,"y":458.5},
      {"s":"Chaboche \"as forged\"","t":"20","x":0.045,"y":464},
      {"s":"Chaboche \"as forged\"","t":"20","x":0.05,"y":468.5},
      {"s":"Chaboche \"as forged\"","t":"20","x":0.055,"y":472},
      {"s":"Chaboche \"as forged\"","t":"20","x":0.06,"y":474.5},
      {"s":"Chaboche \"as forged\"","t":"20","x":0.065,"y":476.5},

      {"s":"Chaboche \"as forged\"","t":"100","x":0,"y":311.5},
      {"s":"Chaboche \"as forged\"","t":"100","x":0.0025,"y":324},
      {"s":"Chaboche \"as forged\"","t":"100","x":0.005,"y":335},
      {"s":"Chaboche \"as forged\"","t":"100","x":0.0075,"y":345},
      {"s":"Chaboche \"as forged\"","t":"100","x":0.01,"y":354.5},
      {"s":"Chaboche \"as forged\"","t":"100","x":0.0125,"y":362.5},
      {"s":"Chaboche \"as forged\"","t":"100","x":0.015,"y":370},
      {"s":"Chaboche \"as forged\"","t":"100","x":0.0175,"y":376.5},
      {"s":"Chaboche \"as forged\"","t":"100","x":0.02,"y":383},
      {"s":"Chaboche \"as forged\"","t":"100","x":0.025,"y":394.5},
      {"s":"Chaboche \"as forged\"","t":"100","x":0.03,"y":404},
      {"s":"Chaboche \"as forged\"","t":"100","x":0.035,"y":412},
      {"s":"Chaboche \"as forged\"","t":"100","x":0.04,"y":418.5},
      {"s":"Chaboche \"as forged\"","t":"100","x":0.045,"y":423.5},
      {"s":"Chaboche \"as forged\"","t":"100","x":0.05,"y":427},
      {"s":"Chaboche \"as forged\"","t":"100","x":0.055,"y":429.5},
      {"s":"Chaboche \"as forged\"","t":"100","x":0.06,"y":431},
      {"s":"Chaboche \"as forged\"","t":"100","x":0.065,"y":432},

      {"s":"Chaboche \"as forged\"","t":"200","x":0,"y":306.5},
      {"s":"Chaboche \"as forged\"","t":"200","x":0.0025,"y":318},
      {"s":"Chaboche \"as forged\"","t":"200","x":0.005,"y":328},
      {"s":"Chaboche \"as forged\"","t":"200","x":0.0075,"y":336.5},
      {"s":"Chaboche \"as forged\"","t":"200","x":0.01,"y":343.5},
      {"s":"Chaboche \"as forged\"","t":"200","x":0.0125,"y":349},
      {"s":"Chaboche \"as forged\"","t":"200","x":0.015,"y":353.5},
      {"s":"Chaboche \"as forged\"","t":"200","x":0.0175,"y":357.5},
      {"s":"Chaboche \"as forged\"","t":"200","x":0.02,"y":361.5},
      {"s":"Chaboche \"as forged\"","t":"200","x":0.0225,"y":365},
      {"s":"Chaboche \"as forged\"","t":"200","x":0.025,"y":368.5},

      {"s":"Chaboche \"as forged\"","t":"250","x":0,"y":238},
      {"s":"Chaboche \"as forged\"","t":"250","x":0.0025,"y":240},
      {"s":"Chaboche \"as forged\"","t":"250","x":0.005,"y":241.3},
      {"s":"Chaboche \"as forged\"","t":"250","x":0.0075,"y":242.2},
      {"s":"Chaboche \"as forged\"","t":"250","x":0.01,"y":243},

      {"s":"Chaboche \"as forged\"","t":"300","x":0,"y":148.5},
      {"s":"Chaboche \"as forged\"","t":"300","x":0.005,"y":149.5},
      {"s":"Chaboche \"as forged\"","t":"300","x":0.01,"y":150},

      {"s":"Chaboche \"fully aged\"","t":"200","x":0,"y":227.5},
      {"s":"Chaboche \"fully aged\"","t":"200","x":0.0025,"y":234.5},
      {"s":"Chaboche \"fully aged\"","t":"200","x":0.005,"y":240},
      {"s":"Chaboche \"fully aged\"","t":"200","x":0.0075,"y":245.5},
      {"s":"Chaboche \"fully aged\"","t":"200","x":0.01,"y":250},
      {"s":"Chaboche \"fully aged\"","t":"200","x":0.0125,"y":254},
      {"s":"Chaboche \"fully aged\"","t":"200","x":0.015,"y":257.5},
      {"s":"Chaboche \"fully aged\"","t":"200","x":0.0175,"y":260.5},
      {"s":"Chaboche \"fully aged\"","t":"200","x":0.02,"y":263.5},
      {"s":"Chaboche \"fully aged\"","t":"200","x":0.0225,"y":266},
      {"s":"Chaboche \"fully aged\"","t":"200","x":0.025,"y":268},

      {"s":"Chaboche \"fully aged\"","t":"250","x":0,"y":110.7},
      {"s":"Chaboche \"fully aged\"","t":"250","x":0.005,"y":112.2},
      {"s":"Chaboche \"fully aged\"","t":"250","x":0.01,"y":113},

      {"s":"Chaboche \"fully aged\"","t":"300","x":0,"y":54},
      {"s":"Chaboche \"fully aged\"","t":"300","x":0.005,"y":54.6},
      {"s":"Chaboche \"fully aged\"","t":"300","x":0.01,"y":55}
    ],
    "labels": [
      {"x":0.0718,"y":474,"label":"20 °C"},
      {"x":0.0733,"y":433,"label":"100 °C"},
      {"x":0.0326,"y":326,"label":"200 °C"},
      {"x":0.0238,"y":282,"label":"200 °C"},
      {"x":0.0165,"y":214.5,"label":"250 °C"},
      {"x":0.0164,"y":139,"label":"300 °C"},
      {"x":0.0105,"y":113,"label":"250 °C"},
      {"x":0.0103,"y":59,"label":"300 °C"}
    ]
  },
  "layer": [
    {
      "data": {"name": "curves"},
      "transform": [{"filter": {"field": "s", "equal": "Experimental \"as forged\""}}],
      "mark": {"type": "line", "interpolate": "linear", "strokeWidth": 1.4},
      "encoding": {
        "x": {"field": "x", "type": "quantitative", "scale": {"domain": [0, 0.08], "nice": false},
              "axis": {"title": "Strain", "values": [0,0.01,0.02,0.03,0.04,0.05,0.06,0.07,0.08], "format": ".2~f", "titlePadding": 19}},
        "y": {"field": "y", "type": "quantitative", "scale": {"domain": [0, 500], "nice": false},
              "axis": {"title": "Stress [MPa]", "values": [0,50,100,150,200,250,300,350,400,450,500], "format": "d", "titlePadding": 14}},
        "detail": {"field": "t", "type": "nominal"},
        "color": {"field": "s", "type": "nominal",
                  "scale": {"domain": ["Experimental \"as forged\"", "Chaboche \"as forged\"", "Chaboche \"fully aged\""], "range": ["#000000", "#8c8c8c", "#8c8c8c"]},
                  "legend": {"title": null, "orient": "none", "legendX": 587, "legendY": 135, "fillColor": "white", "padding": 5,
                             "symbolType": "stroke", "symbolSize": 2700, "labelFontSize": 26.5, "labelFont": "Lato", "labelColor": "#000000",
                             "labelOffset": 14, "rowPadding": 23, "labelLimit": 0,
                             "encode": {"symbols": {"update": {
                               "strokeWidth": {"signal": "datum.value === 'Experimental \"as forged\"' ? 1.4 : 3.5"},
                               "strokeDash": {"signal": "datum.value === 'Chaboche \"fully aged\"' ? [10, 5] : [1, 0]"}
                             }}}}},
        "strokeDash": {"field": "s", "type": "nominal", "legend": null,
                       "scale": {"domain": ["Experimental \"as forged\"", "Chaboche \"as forged\"", "Chaboche \"fully aged\""], "range": [[1,0],[1,0],[10,6]]}}
      }
    },
    {
      "data": {"name": "curves"},
      "transform": [{"filter": {"field": "s", "oneOf": ["Chaboche \"as forged\"", "Chaboche \"fully aged\""]}}],
      "mark": {"type": "line", "interpolate": "linear", "strokeWidth": 3.5},
      "encoding": {
        "x": {"field": "x", "type": "quantitative"},
        "y": {"field": "y", "type": "quantitative"},
        "detail": {"field": "t", "type": "nominal"},
        "color": {"field": "s", "type": "nominal"},
        "strokeDash": {"field": "s", "type": "nominal", "legend": null}
      }
    },
    {
      "data": {"name": "labels"},
      "mark": {"type": "text", "align": "left", "baseline": "middle", "font": "Lato", "fontSize": 24, "color": "#000000"},
      "encoding": {
        "x": {"field": "x", "type": "quantitative"},
        "y": {"field": "y", "type": "quantitative"},
        "text": {"field": "label", "type": "nominal"}
      }
    }
  ]
}
